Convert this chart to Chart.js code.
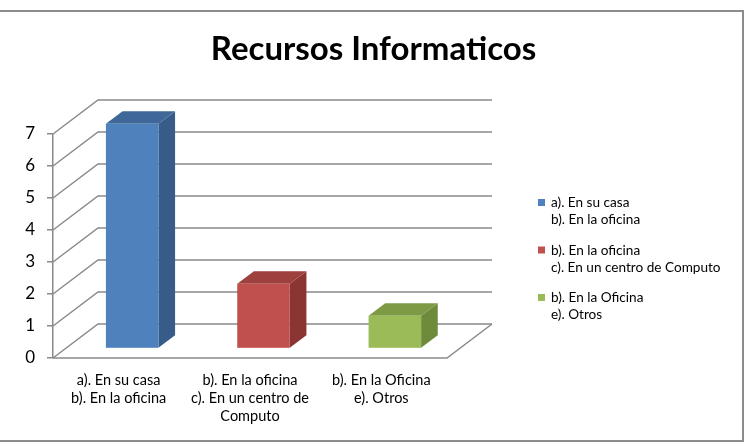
<!DOCTYPE html>
<html>
<head>
<meta charset="utf-8">
<title>Recursos Informaticos</title>
<script src="https://cdn.jsdelivr.net/npm/chart.js@4.4.1/dist/chart.umd.min.js"></script>
<style>
  html, body { margin: 0; padding: 0; background: #fff; }
  #wrap { width: 747px; height: 444px; }
</style>
</head>
<body>
<div id="wrap"><canvas id="chart" width="747" height="444"></canvas></div>
<script>
// Data
const categories = [
  ['a). En su casa', 'b). En la oficina'],
  ['b). En la oficina', 'c). En un centro de Computo'],
  ['b). En la Oficina', 'e). Otros']
];
const xTickLabels = [
  ['a). En su casa', 'b). En la oficina'],
  ['b). En la oficina', 'c). En un centro de', 'Computo'],
  ['b). En la Oficina', 'e). Otros']
];
const values = [7, 2, 1];
const yMin = 0;
const yMax = 7;

// Office 2007 palette: front, side, top
const palette = [
  { front: '#4F81BD', side: '#375C89', top: '#3F6898' },
  { front: '#C0504D', side: '#8A3533', top: '#9E403D' },
  { front: '#9BBB59', side: '#6E8A3B', top: '#7E9A45' }
];

const FONT = 'Lato, "Open Sans", sans-serif';
const GRID = '#8a8a8a';
// depth of the 3D box (walls), and where the bars sit inside it
const DX = 45, DY = -34;
const BAR_FRONT = 0.3, BAR_DEPTH = 0.37;

const box3d = {
  id: 'box3d',
  beforeDatasetsDraw(chart) {
    const { ctx, chartArea: a, scales: { y } } = chart;
    const y0 = y.getPixelForValue(0);
    ctx.save();
    ctx.strokeStyle = GRID;
    ctx.lineWidth = 1.5;

    // floor
    ctx.beginPath();
    ctx.moveTo(a.left, y0);
    ctx.lineTo(a.right, y0);
    ctx.lineTo(a.right + DX, y0 + DY);
    ctx.stroke();

    // side wall diagonals + back wall gridlines
    y.ticks.forEach(t => {
      const py = y.getPixelForValue(t.value);
      ctx.beginPath();
      ctx.moveTo(a.left, py);
      ctx.lineTo(a.left + DX, py + DY);
      ctx.lineTo(a.right + DX, py + DY);
      ctx.stroke();
    });

    // bars as boxes
    const meta = chart.getDatasetMeta(0);
    meta.data.forEach((el, i) => {
      const c = palette[i];
      const w = el.width;
      const x0 = el.x - w / 2 + BAR_FRONT * DX;
      const yb = y0 + BAR_FRONT * DY;
      const yt = el.y + BAR_FRONT * DY;
      const dx = BAR_DEPTH * DX, dy = BAR_DEPTH * DY;

      ctx.fillStyle = c.side;
      ctx.beginPath();
      ctx.moveTo(x0 + w, yt);
      ctx.lineTo(x0 + w + dx, yt + dy);
      ctx.lineTo(x0 + w + dx, yb + dy);
      ctx.lineTo(x0 + w, yb);
      ctx.closePath();
      ctx.fill();

      ctx.fillStyle = c.top;
      ctx.beginPath();
      ctx.moveTo(x0, yt);
      ctx.lineTo(x0 + dx, yt + dy);
      ctx.lineTo(x0 + w + dx, yt + dy);
      ctx.lineTo(x0 + w, yt);
      ctx.closePath();
      ctx.fill();

      ctx.fillStyle = c.front;
      ctx.fillRect(x0, yt, w, yb - yt);
    });
    ctx.restore();
    return false;
  },
  afterDraw(chart) {
    const { ctx } = chart;
    ctx.save();
    // legend (multi-line entries)
    ctx.font = '13.6px ' + FONT;
    ctx.textBaseline = 'middle';
    ctx.textAlign = 'left';
    categories.forEach((lines, i) => {
      const yy = 203 + i * 47.5;
      ctx.fillStyle = palette[i].front;
      ctx.fillRect(538, yy - 4, 7, 7);
      ctx.fillStyle = '#000';
      lines.forEach((ln, j) => ctx.fillText(ln, 551, yy + j * 17));
    });
    // chart area border
    ctx.strokeStyle = '#8c8c8c';
    ctx.lineWidth = 2;
    ctx.strokeRect(-2, 11, 745, 430);
    ctx.restore();
  }
};

new Chart(document.getElementById('chart'), {
  type: 'bar',
  data: {
    labels: xTickLabels,
    datasets: [{
      data: values,
      backgroundColor: palette.map(p => p.front),
      categoryPercentage: 1,
      barPercentage: 0.4
    }]
  },
  options: {
    responsive: false,
    animation: false,
    layout: { padding: { top: 0, left: 0, right: 0, bottom: 6 } },
    plugins: {
      legend: { display: false },
      tooltip: { enabled: false },
      title: {
        display: true,
        text: 'Recursos Informaticos',
        color: '#000',
        font: { family: FONT, size: 33, weight: 'bold' },
        padding: { top: 30, bottom: 64.4 }
      }
    },
    scales: {
      x: {
        grid: { display: false, drawTicks: false },
        border: { display: false },
        ticks: {
          color: '#000',
          font: { family: FONT, size: 14.5, lineHeight: 1.24 },
          padding: 13,
          maxRotation: 0,
          autoSkip: false
        },
        afterFit(s) { s.height = 80; }
      },
      y: {
        min: yMin,
        max: yMax,
        grid: { drawOnChartArea: false, drawTicks: true, tickLength: 6, color: GRID, lineWidth: 1.5 },
        border: { display: true, color: GRID, width: 1.5 },
        ticks: {
          stepSize: 1,
          color: '#000',
          font: { family: FONT, size: 17 },
          padding: 12
        },
        afterFit(s) { s.width = 53; }
      },
      // empty right-hand scale that reserves room for the legend
      yRight: {
        position: 'right',
        min: yMin,
        max: yMax,
        grid: { display: false, drawTicks: false },
        border: { display: false },
        ticks: { display: false },
        afterFit(s) { s.width = 300; }
      }
    }
  },
  plugins: [box3d]
});
</script>
</body>
</html>
